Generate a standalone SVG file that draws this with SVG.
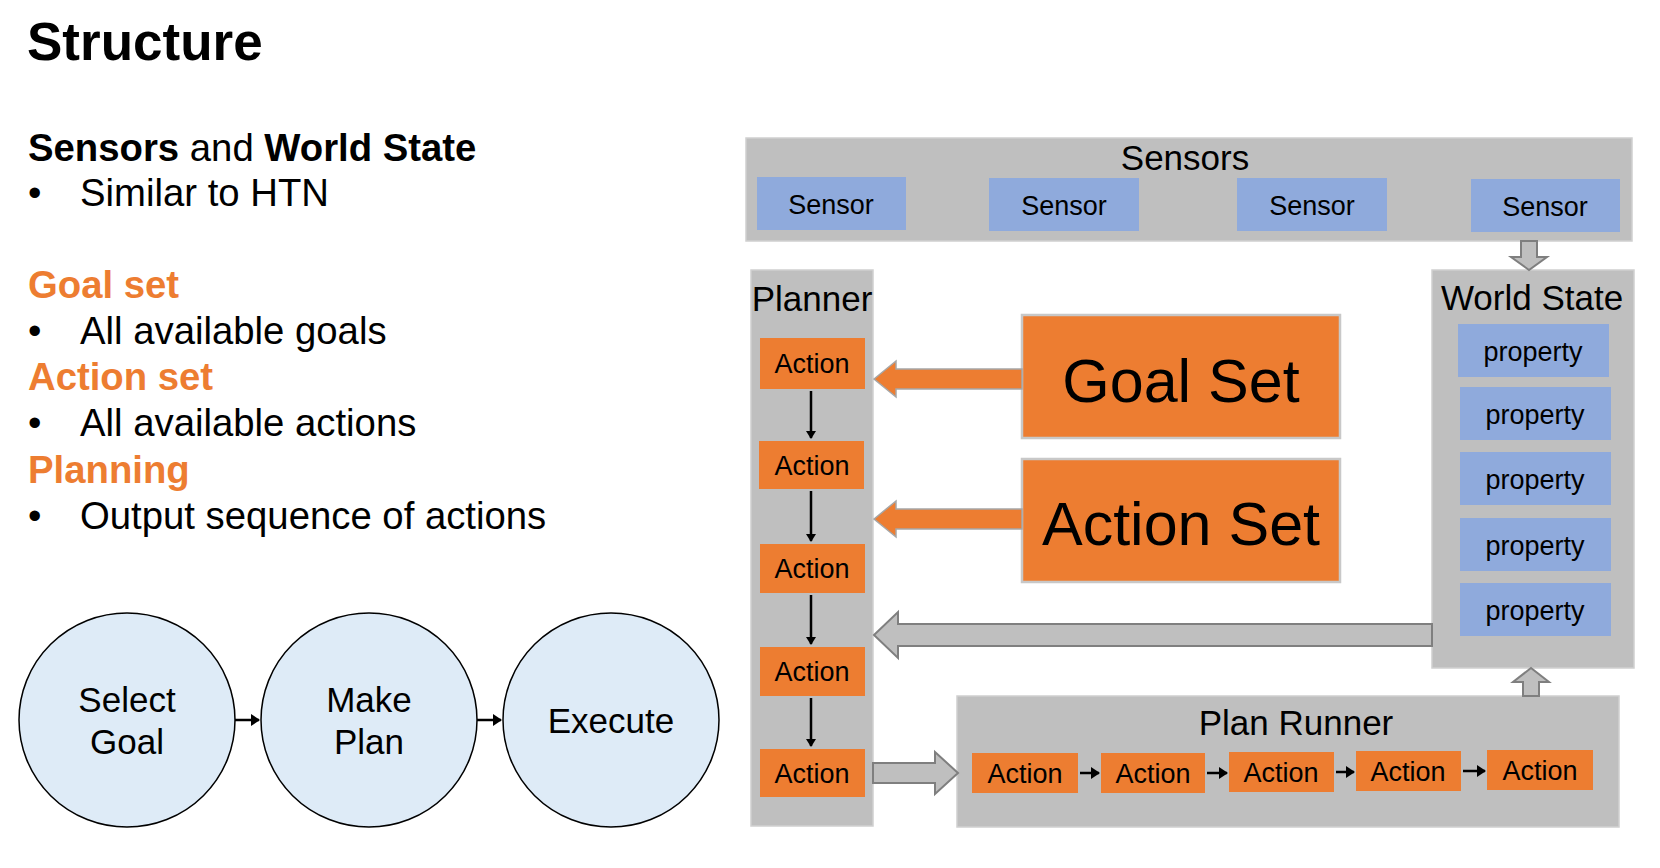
<svg xmlns="http://www.w3.org/2000/svg" width="1660" height="868" viewBox="0 0 1660 868">
<defs>
<marker id="ah" markerWidth="10" markerHeight="10" refX="7" refY="5" orient="auto" markerUnits="userSpaceOnUse"><path d="M0,0 L8,5 L0,10 Z" fill="#000"/></marker>
<marker id="ahs" markerWidth="10" markerHeight="12" refX="8" refY="6" orient="auto" markerUnits="userSpaceOnUse"><path d="M0,0 L9,6 L0,12 Z" fill="#000"/></marker>
</defs>
<style>
text{font-family:"Liberation Sans",Arial,sans-serif;fill:#000}
.h{font-size:38.3px}
.b{font-weight:bold}
.o{fill:#ED7D31;font-weight:bold}
.panel{fill:#BFBFBF;stroke:#D0D0D0;stroke-width:1.5}
.blue{fill:#8FAADC}
.org{fill:#ED7D31}
.big{fill:#ED7D31;stroke:#C8C8C8;stroke-width:2.5}
.circ{fill:#DEEBF7;stroke:#000;stroke-width:1.5}
.garrow{fill:#BFBFBF;stroke:#7F7F7F;stroke-width:2}
.oarrow{fill:#ED7D31;stroke:#A6A6A6;stroke-width:1.5}
.t32{font-size:35px}
.t24{font-size:27px}
.c{text-anchor:middle}
.ln{stroke:#000;stroke-width:2.5;fill:none}
</style>
<rect width="1660" height="868" fill="#fff"/>
<g id="text-left">
<text x="27" y="60" class="b" font-size="53">Structure</text>
<text x="28" y="161" class="h"><tspan class="b">Sensors</tspan> and <tspan class="b">World State</tspan></text>
<text x="28" y="206" class="h">•</text><text x="80" y="206" class="h">Similar to HTN</text>
<text x="28" y="298" class="h o">Goal set</text>
<text x="28" y="344" class="h">•</text><text x="80" y="344" class="h">All available goals</text>
<text x="28" y="390" class="h o">Action set</text>
<text x="28" y="436" class="h">•</text><text x="80" y="436" class="h">All available actions</text>
<text x="28" y="483" class="h o">Planning</text>
<text x="28" y="529" class="h">•</text><text x="80" y="529" class="h">Output sequence of actions</text>
</g>
<g id="select-goal"><ellipse cx="127" cy="720" rx="108" ry="107" class="circ"/><text x="127" y="712" class="t32 c">Select</text><text x="127" y="754" class="t32 c">Goal</text></g>
<g id="make-plan"><ellipse cx="369" cy="720" rx="108" ry="107" class="circ"/><text x="369" y="712" class="t32 c">Make</text><text x="369" y="754" class="t32 c">Plan</text></g>
<g id="execute"><ellipse cx="611" cy="720" rx="108" ry="107" class="circ"/><text x="611" y="733" class="t32 c">Execute</text></g>
<g id="sensors">
<rect x="746" y="138" width="886" height="103" class="panel"/>
<text x="1185" y="170" class="t32 c">Sensors</text>
<rect x="757" y="177" width="149" height="53" class="blue"/><text x="831" y="214" class="t24 c">Sensor</text>
<rect x="989" y="178" width="150" height="53" class="blue"/><text x="1064" y="215" class="t24 c">Sensor</text>
<rect x="1237" y="178" width="150" height="53" class="blue"/><text x="1312" y="215" class="t24 c">Sensor</text>
<rect x="1471" y="179" width="149" height="53" class="blue"/><text x="1545" y="216" class="t24 c">Sensor</text>
</g>
<g id="planner">
<rect x="751" y="270" width="122" height="556" class="panel"/>
<text x="812" y="311" class="t32 c">Planner</text>
<rect x="760" y="338" width="105" height="51" class="org"/><text x="812" y="373" class="t24 c">Action</text>
<rect x="759" y="441" width="105" height="48" class="org"/><text x="812" y="475" class="t24 c">Action</text>
<rect x="760" y="544" width="105" height="49" class="org"/><text x="812" y="578" class="t24 c">Action</text>
<rect x="760" y="647" width="105" height="49" class="org"/><text x="812" y="681" class="t24 c">Action</text>
<rect x="760" y="749" width="105" height="48" class="org"/><text x="812" y="783" class="t24 c">Action</text>
</g>
<g id="goal-set"><rect x="1022" y="315" width="318" height="123" class="big"/><text x="1181" y="402" font-size="61" class="c">Goal Set</text></g>
<g id="action-set"><rect x="1022" y="459" width="318" height="123" class="big"/><text x="1181" y="545" font-size="61" class="c">Action Set</text></g>
<g id="world-state">
<rect x="1432" y="270" width="202" height="398" class="panel"/>
<text x="1532" y="310" class="t32 c">World State</text>
<rect x="1458" y="324" width="151" height="53" class="blue"/><text x="1533" y="361" class="t24 c">property</text>
<rect x="1460" y="387" width="151" height="53" class="blue"/><text x="1535" y="424" class="t24 c">property</text>
<rect x="1460" y="452" width="151" height="53" class="blue"/><text x="1535" y="489" class="t24 c">property</text>
<rect x="1460" y="518" width="151" height="53" class="blue"/><text x="1535" y="555" class="t24 c">property</text>
<rect x="1460" y="583" width="151" height="53" class="blue"/><text x="1535" y="620" class="t24 c">property</text>
</g>
<g id="plan-runner">
<rect x="957" y="696" width="662" height="131" class="panel"/>
<text x="1296" y="735" class="t32 c">Plan Runner</text>
<rect x="972" y="753" width="106" height="40" class="org"/><text x="1025" y="783" class="t24 c">Action</text>
<rect x="1101" y="753" width="104" height="40" class="org"/><text x="1153" y="783" class="t24 c">Action</text>
<rect x="1229" y="752" width="105" height="40" class="org"/><text x="1281" y="782" class="t24 c">Action</text>
<rect x="1356" y="751" width="105" height="40" class="org"/><text x="1408" y="781" class="t24 c">Action</text>
<rect x="1487" y="750" width="106" height="40" class="org"/><text x="1540" y="780" class="t24 c">Action</text>
</g>
<g id="connectors">
<line x1="235" y1="720" x2="259" y2="720" class="ln" stroke-width="4" marker-end="url(#ahs)"/>
<line x1="477" y1="720" x2="501" y2="720" class="ln" stroke-width="4" marker-end="url(#ahs)"/>
<line x1="811" y1="391" x2="811" y2="438" class="ln" marker-end="url(#ah)"/>
<line x1="811" y1="491" x2="811" y2="541" class="ln" marker-end="url(#ah)"/>
<line x1="811" y1="595" x2="811" y2="644" class="ln" marker-end="url(#ah)"/>
<line x1="811" y1="698" x2="811" y2="746" class="ln" marker-end="url(#ah)"/>
<line x1="1080" y1="773" x2="1099" y2="773" class="ln" stroke-width="4" marker-end="url(#ahs)"/>
<line x1="1207" y1="773" x2="1227" y2="773" class="ln" stroke-width="4" marker-end="url(#ahs)"/>
<line x1="1336" y1="772" x2="1354" y2="772" class="ln" stroke-width="4" marker-end="url(#ahs)"/>
<line x1="1463" y1="771" x2="1485" y2="771" class="ln" stroke-width="4" marker-end="url(#ahs)"/>
<path d="M874,379 L896,361 L896,369 L1022,369 L1022,389 L896,389 L896,397 Z" class="oarrow"/>
<path d="M874,519 L896,501 L896,509 L1022,509 L1022,529 L896,529 L896,537 Z" class="oarrow"/>
<path d="M874,635 L898,612 L898,624 L1432,624 L1432,646 L898,646 L898,658 Z" class="garrow"/>
<path d="M1521,241 L1537,241 L1537,257 L1547,257 L1529,270 L1511,257 L1521,257 Z" class="garrow"/>
<path d="M1523,696 L1539,696 L1539,682 L1549,682 L1531,668 L1513,682 L1523,682 Z" class="garrow"/>
<path d="M873,763 L935,763 L935,752 L958,773 L935,794 L935,783 L873,783 Z" class="garrow"/>
</g>
</svg>
